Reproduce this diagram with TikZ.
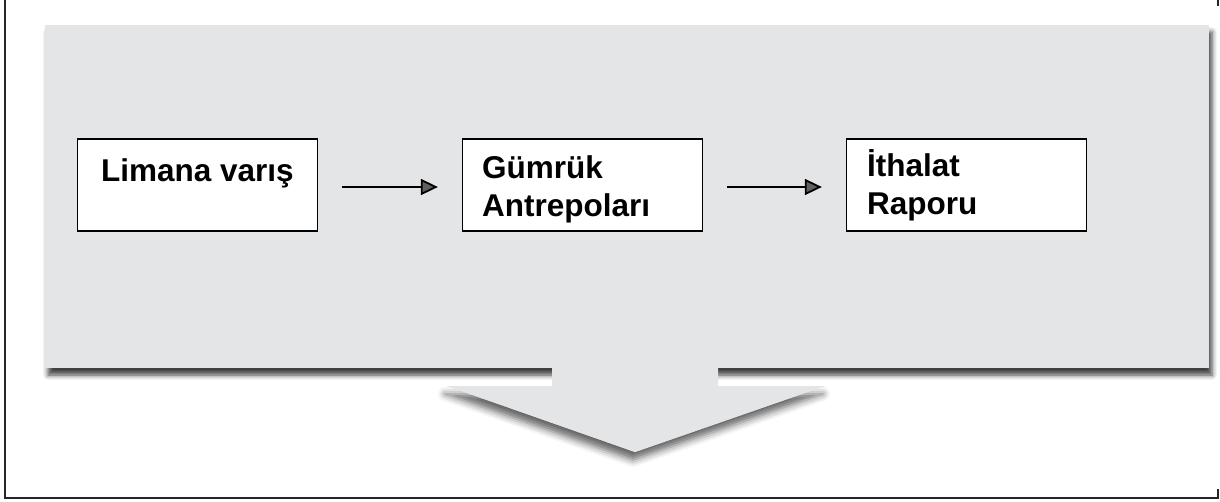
\documentclass[tikz,border=0pt]{standalone}
\usepackage{fontspec}
\setmainfont{Liberation Sans}
\usetikzlibrary{shadows.blur,arrows.meta,calc}
\definecolor{panelgray}{HTML}{E4E5E7}
\tikzset{
  stepbox/.style={draw=black, line width=1.3pt, fill=white, minimum width=240pt, minimum height=92pt, inner sep=0pt},
  steptext/.style={font=\fontsize{31.5}{38}\selectfont\bfseries, inner sep=0pt, align=left},
  flow/.style={line width=1.8pt, -{Triangle[length=17pt,width=16pt]}, shorten <=24pt, shorten >=24pt},
  frameline/.style={line width=2pt, black!85}
}
\begin{document}
\begin{tikzpicture}[x=1pt,y=-1pt]
\useasboundingbox (0,0) rectangle (1220,501);
% outer frame
\coordinate (ftl) at (5,0);
\coordinate (fbl) at (5,498);
\coordinate (fbr) at (1218,498);
\coordinate (fbr2) at (1218,489);
\coordinate (ftr) at (1218,0);
\coordinate (ftr2) at (1218,6);
\draw[frameline] (ftl) -- (fbl) -- (fbr) -- (fbr2);
\draw[frameline] (ftr) -- (ftr2);
% arrow triangle shadow
\fill[panelgray, blur shadow={shadow xshift=-2pt, shadow yshift=-8pt, shadow blur radius=7pt, shadow opacity=60}]
  (447,386) -- (635,452) -- (825,386) -- cycle;
% panel
\fill[panelgray, blur shadow={shadow xshift=3pt, shadow yshift=-7pt, shadow blur radius=5pt, shadow opacity=75}]
  (45,25) rectangle (1209,368);
% arrow stem + head over panel shadow
\fill[panelgray] (552,360) -- (718,360) -- (718,386) -- (825,386) -- (635,452) -- (447,386) -- (552,386) -- cycle;
% boxes
\node[stepbox] (b1) at (197.5,185) {};
\node[stepbox] (b2) at (582.5,185) {};
\node[stepbox] (b3) at (966.5,185) {};
\node[steptext, anchor=base] (t1) at ($(b1.north)+(0,43)$) {Limana varış};
\node[steptext, anchor=base west] (t2) at ($(b2.north west)+(20,78)$) {Gümrük\\Antrepoları};
\node[steptext, anchor=base west] (t3) at ($(b3.north west)+(21,76)$) {İthalat\\Raporu};
% connectors
\draw[flow] ([yshift=-2pt]b1.east) -- ([yshift=-2pt]b2.west);
\draw[flow] ([yshift=-2pt]b2.east) -- ([yshift=-2pt]b3.west);
\end{tikzpicture}
\end{document}
